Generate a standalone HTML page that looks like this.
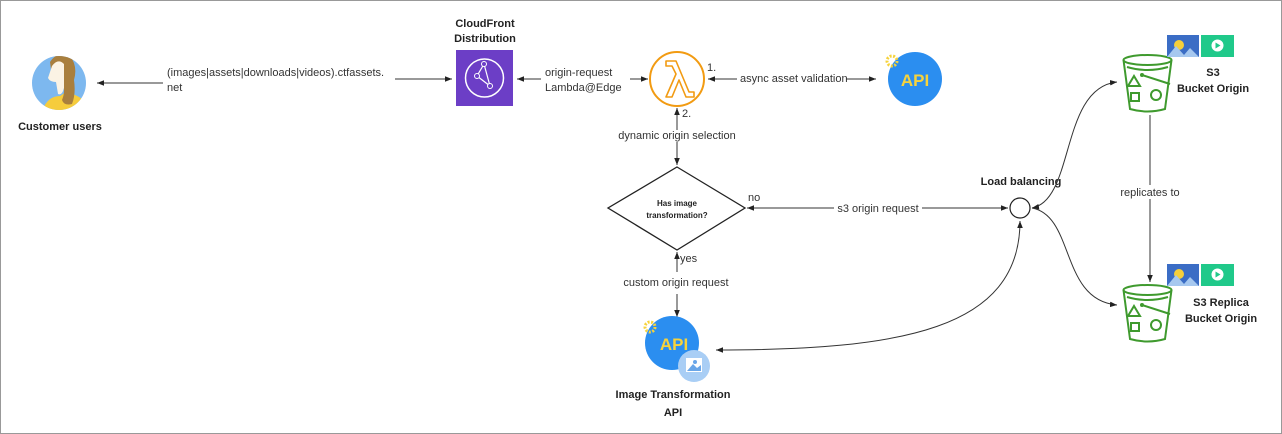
<!DOCTYPE html>
<html><head><meta charset="utf-8"><style>
html,body{margin:0;padding:0;background:#fff;}
svg{display:block;}
text{font-family:"Liberation Sans",sans-serif;}
.l{font-size:11px;fill:#333;}
.b{font-size:11px;font-weight:bold;fill:#222;}
</style></head><body>
<svg width="1282" height="434" viewBox="0 0 1282 434" xmlns="http://www.w3.org/2000/svg">
<defs>
<marker id="a" viewBox="0 0 10 10" refX="10" refY="5" markerWidth="7" markerHeight="7" orient="auto-start-reverse"><path d="M0,1 L10,5 L0,9 z" fill="#222"/></marker>
<clipPath id="cc"><circle cx="59" cy="83" r="27"/></clipPath>
</defs>
<rect x="0.5" y="0.5" width="1281" height="433" fill="#fff" stroke="#999"/>

<!-- customer -->
<circle cx="59" cy="83" r="27" fill="#7db8ef"/>
<g clip-path="url(#cc)">
<path d="M40,120 Q44,96 60,96 L66,92 Q82,96 86,104 L86,120 z" fill="#f6cc3c"/>
<path d="M50,62 Q58,50 70,56 Q78,66 74,80 Q76,94 72,104 Q64,106 62,100 Q66,90 62,84 Q58,74 52,76 z" fill="#a97f3e"/>
<path d="M52,66 Q58,58 64,64 L64,88 Q62,96 58,94 L56,82 Q50,82 48,78 Q50,72 52,66 z" fill="#fbf3e4"/>
</g>
<text class="b" x="60" y="130" text-anchor="middle">Customer users</text>

<line x1="163" y1="83" x2="97" y2="83" stroke="#333" marker-end="url(#a)"/>
<text class="l" x="167" y="76">(images|assets|downloads|videos).ctfassets.</text>
<text class="l" x="167" y="91">net</text>
<line x1="395" y1="79" x2="452" y2="79" stroke="#333" marker-end="url(#a)"/>

<!-- cloudfront -->
<text class="b" x="485" y="27" text-anchor="middle">CloudFront</text>
<text class="b" x="485" y="42" text-anchor="middle">Distribution</text>
<rect x="456" y="50" width="57" height="56" fill="#6c3ec6"/>
<circle cx="484.5" cy="78" r="19" fill="none" stroke="#fff" stroke-width="1.5"/>
<path d="M477,76 L484,64 L490,86 L477,76" fill="none" stroke="#fff" stroke-width="1.2"/>
<circle cx="484" cy="64" r="2.5" fill="#6c3ec6" stroke="#fff"/>
<circle cx="477" cy="76" r="2.5" fill="#6c3ec6" stroke="#fff"/>
<circle cx="490" cy="86" r="2.5" fill="#6c3ec6" stroke="#fff"/>

<line x1="541" y1="79" x2="517" y2="79" stroke="#333" marker-end="url(#a)"/>
<text class="l" x="545" y="76">origin-request</text>
<text class="l" x="545" y="91">Lambda@Edge</text>
<line x1="630" y1="79" x2="648" y2="79" stroke="#333" marker-end="url(#a)"/>

<!-- lambda -->
<circle cx="677" cy="79" r="27" fill="#fff" stroke="#f29b12" stroke-width="2"/>
<path d="M666,97 L676,74 L672,66 L666,66 L666,61 L676,61 L689,92 L694,92 L694,97 L686,97 L679,80 L672,97 z" fill="none" stroke="#f29b12" stroke-width="1.6" stroke-linejoin="round"/>
<text class="l" x="707" y="71">1.</text>
<line x1="737" y1="79" x2="708" y2="79" stroke="#333" marker-end="url(#a)"/>
<text class="l" x="740" y="82">async asset validation</text>
<line x1="846" y1="79" x2="876" y2="79" stroke="#333" marker-end="url(#a)"/>

<!-- API top -->
<circle cx="915" cy="79" r="27" fill="#2b8ef0"/>
<text x="915" y="86" text-anchor="middle" font-size="17" font-weight="bold" fill="#f6d33c">API</text>
<circle cx="892" cy="61" r="5" fill="none" stroke="#f6d33c" stroke-width="3" stroke-dasharray="2 1.5"/>

<!-- vertical lambda-diamond -->
<line x1="677" y1="130" x2="677" y2="108" stroke="#333" marker-end="url(#a)"/>
<line x1="677" y1="142" x2="677" y2="165" stroke="#333" marker-end="url(#a)"/>
<text class="l" x="682" y="117">2.</text>
<text class="l" x="677" y="139" text-anchor="middle">dynamic origin selection</text>

<!-- diamond -->
<polygon points="677,167 745,208 677,250 608,208" fill="#fff" stroke="#222" stroke-width="1.3"/>
<text x="677" y="206" text-anchor="middle" font-size="8" font-weight="bold" fill="#222">Has image</text>
<text x="677" y="218" text-anchor="middle" font-size="8" font-weight="bold" fill="#222">transformation?</text>
<text class="l" x="748" y="201">no</text>
<line x1="834" y1="208" x2="747" y2="208" stroke="#333" marker-end="url(#a)"/>
<text class="l" x="878" y="212" text-anchor="middle">s3 origin request</text>
<line x1="922" y1="208" x2="1008" y2="208" stroke="#333" marker-end="url(#a)"/>

<!-- load balancing -->
<text class="b" x="1021" y="185" text-anchor="middle">Load balancing</text>
<circle cx="1020" cy="208" r="10" fill="#fff" stroke="#222" stroke-width="1.2"/>

<!-- yes / custom -->
<text class="l" x="680" y="262">yes</text>
<line x1="677" y1="272" x2="677" y2="252" stroke="#333" marker-end="url(#a)"/>
<text class="l" x="676" y="286" text-anchor="middle">custom origin request</text>
<line x1="677" y1="294" x2="677" y2="317" stroke="#333" marker-end="url(#a)"/>

<!-- image API -->
<circle cx="672" cy="343" r="27" fill="#2b8ef0"/>
<text x="674" y="350" text-anchor="middle" font-size="17" font-weight="bold" fill="#f6d33c">API</text>
<circle cx="650" cy="327" r="5" fill="none" stroke="#f6d33c" stroke-width="3" stroke-dasharray="2 1.5"/>
<circle cx="694" cy="366" r="16" fill="#a9cef5"/>
<rect x="686" y="358" width="16" height="14" fill="#fff"/>
<path d="M687,371 L693,364 L697,368 L701,365 L701,371 z" fill="#6aa6e8"/>
<circle cx="695" cy="362" r="2" fill="#6aa6e8"/>
<text class="b" x="673" y="398" text-anchor="middle">Image Transformation</text>
<text class="b" x="673" y="416" text-anchor="middle">API</text>

<!-- curves -->
<path d="M1020,221 C1020,330 900,350 716,350" fill="none" stroke="#333" marker-start="url(#a)" marker-end="url(#a)"/>
<path d="M1032,208 C1075,200 1060,88 1117,82" fill="none" stroke="#333" marker-start="url(#a)" marker-end="url(#a)"/>
<path d="M1032,208 C1075,216 1060,300 1117,305" fill="none" stroke="#333" marker-end="url(#a)"/>

<!-- bucket 1 -->
<g fill="none" stroke="#3f9a2e" stroke-width="2">
<ellipse cx="1147.5" cy="60" rx="24" ry="5"/>
<path d="M1123.5,60 L1130,109 Q1147.5,114 1165,109 L1171.5,60"/>
<path d="M1127,67 Q1147.5,73 1168,67"/>
<polygon points="1134,76 1140,86 1128,86"/>
<rect x="1131" y="93" width="8" height="8"/>
<circle cx="1156" cy="95" r="5"/>
<path d="M1142,75 L1170,84"/>
</g>
<circle cx="1142" cy="75" r="2" fill="#3f9a2e"/>
<rect x="1167" y="35" width="32" height="22" fill="#3b6dc5"/>
<circle cx="1179" cy="45" r="5" fill="#f6cf3a"/>
<path d="M1167,57 L1176,46 L1184,55 L1190,48 L1199,57 z" fill="#a6c8ef"/>
<rect x="1201" y="35" width="33" height="22" fill="#20c98a"/>
<circle cx="1217.5" cy="45.5" r="6" fill="#fff"/>
<path d="M1215.5,42.5 L1220.5,45.5 L1215.5,48.5 z" fill="#20c98a"/>
<text class="b" x="1213" y="76" text-anchor="middle">S3</text>
<text class="b" x="1213" y="92" text-anchor="middle">Bucket Origin</text>

<line x1="1150" y1="115" x2="1150" y2="282" stroke="#333" marker-end="url(#a)"/>
<rect x="1118" y="185" width="64" height="14" fill="#fff"/>
<text class="l" x="1150" y="196" text-anchor="middle">replicates to</text>

<!-- bucket 2 -->
<g fill="none" stroke="#3f9a2e" stroke-width="2">
<ellipse cx="1147.5" cy="290" rx="24" ry="5"/>
<path d="M1123.5,290 L1130,339 Q1147.5,344 1165,339 L1171.5,290"/>
<path d="M1127,297 Q1147.5,303 1168,297"/>
<polygon points="1134,306 1140,316 1128,316"/>
<rect x="1131" y="323" width="8" height="8"/>
<circle cx="1156" cy="325" r="5"/>
<path d="M1142,305 L1170,314"/>
</g>
<circle cx="1142" cy="305" r="2" fill="#3f9a2e"/>
<rect x="1167" y="264" width="32" height="22" fill="#3b6dc5"/>
<circle cx="1179" cy="274" r="5" fill="#f6cf3a"/>
<path d="M1167,286 L1176,275 L1184,284 L1190,277 L1199,286 z" fill="#a6c8ef"/>
<rect x="1201" y="264" width="33" height="22" fill="#20c98a"/>
<circle cx="1217.5" cy="274.5" r="6" fill="#fff"/>
<path d="M1215.5,271.5 L1220.5,274.5 L1215.5,277.5 z" fill="#20c98a"/>
<text class="b" x="1221" y="306" text-anchor="middle">S3 Replica</text>
<text class="b" x="1221" y="322" text-anchor="middle">Bucket Origin</text>
</svg>
</body></html>
